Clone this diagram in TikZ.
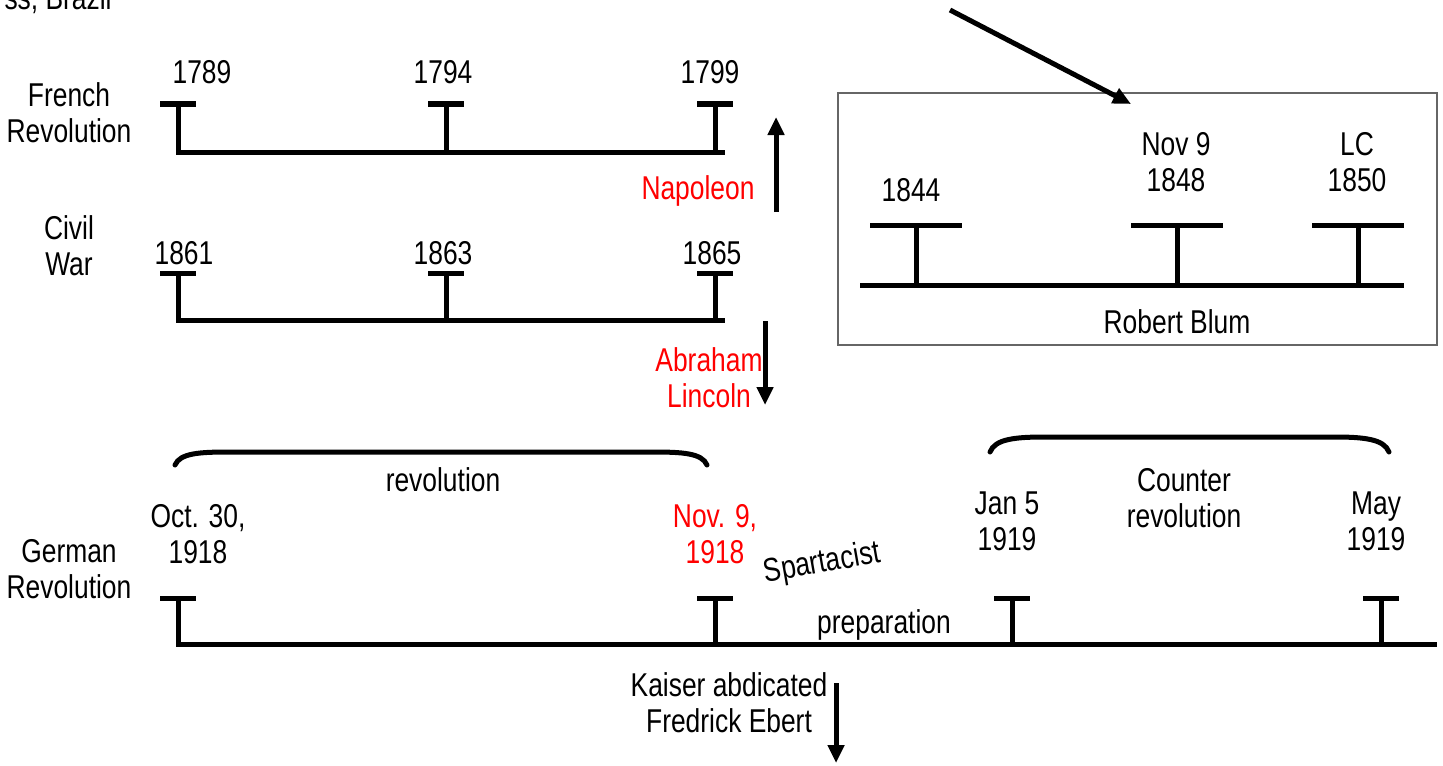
\documentclass[tikz,border=0pt]{standalone}
\usepackage{fontspec}
\setmainfont{Liberation Sans}[FakeStretch=0.8]
\usetikzlibrary{arrows.meta}
\tikzset{
  tline/.style={line width=2.5pt},
  brace/.style={line width=2.5pt, line cap=round},
  evt/.style={align=center, inner sep=0pt, font=\fontsize{16.5}{18}\selectfont},
  redevt/.style={evt, text=red},
  bigarrow/.style={line width=2.5pt, -{Triangle[width=8pt,length=9pt]}},
}
\begin{document}
\begin{tikzpicture}[x=0.5pt,y=-0.5pt]
  \useasboundingbox (0,0) rectangle (1443,765);
  \node[evt, anchor=base east] (brazil) at (112,10) {ss, Brazil};

  % French Revolution
  \node[evt] (fr) at (69,113) {French\\Revolution};
  \draw[tline] (178,104) -- (178,152) -- (725,152);
  \foreach \x in {178,446,715}
    \draw[tline] (\x-18,104) -- (\x+18,104) (\x,104) -- (\x,152);
  \node[evt] (fr1) at (202,72) {1789};
  \node[evt] (fr2) at (443,72) {1794};
  \node[evt] (fr3) at (710,72) {1799};

  % Napoleon
  \node[redevt] (napoleon) at (698,191) {Napoleon};
  \coordinate (napS) at (776,212);
  \coordinate (napE) at (776,117);
  \draw[bigarrow] (napS) -- (napE);

  % Civil War
  \node[evt] (cw) at (69,246) {Civil\\War};
  \draw[tline] (178,273) -- (178,320) -- (725,320);
  \foreach \x in {178,446,715}
    \draw[tline] (\x-18,273) -- (\x+18,273) (\x,273) -- (\x,320);
  \node[evt] (cw1) at (184,253) {1861};
  \node[evt] (cw2) at (443,253) {1863};
  \node[evt] (cw3) at (712,253) {1865};

  % Abraham Lincoln
  \node[redevt] (lincoln) at (709,378) {Abraham\\Lincoln};
  \coordinate (linS) at (765,321);
  \coordinate (linE) at (765,405);
  \draw[bigarrow] (linS) -- (linE);

  % Robert Blum box
  \draw[gray!80!black, line width=0.7pt] (838,93) rectangle (1437,345);
  \draw[tline] (860,285) -- (1404,285);
  \foreach \x in {916,1177,1358}
    \draw[tline] (\x-46,225) -- (\x+46,225) (\x,225) -- (\x,285);
  \node[evt] (rb1) at (911,190) {1844};
  \node[evt] (rb2) at (1176,162) {Nov 9\\1848};
  \node[evt] (rb3) at (1357,162) {LC\\1850};
  \node[evt] (blum) at (1177,322) {Robert Blum};
  \coordinate (topS) at (950,10);
  \coordinate (topE) at (1131,104);
  \draw[bigarrow] (topS) -- (topE);

  % German Revolution
  \node[evt] (gr) at (69,569) {German\\Revolution};
  \draw[tline] (178,598) -- (178,644) -- (1437,644);
  \foreach \x in {178,715,1012,1381}
    \draw[tline] (\x-18,598) -- (\x+18,598) (\x,598) -- (\x,644);
  \node[evt] (gr1) at (198,534) {Oct. 30,\\1918};
  \node[redevt] (gr2) at (715,534) {Nov. 9,\\1918};
  \node[evt] (gr3) at (1007,521) {Jan 5\\1919};
  \node[evt] (gr4) at (1376,521) {May\\1919};
  \node[evt, rotate=10] (spart) at (822,564) {Spartacist};
  \node[evt] (prep) at (884,625) {preparation};

  % braces
  \draw[brace] (175,465) .. controls (180,453) and (200,452) .. (230,452)
    -- (652,452) .. controls (682,452) and (702,453) .. (707,465);
  \node[evt] (revo) at (443,480) {revolution};
  \draw[brace] (990,452) .. controls (995,439) and (1015,437) .. (1045,437)
    -- (1334,437) .. controls (1364,437) and (1384,439) .. (1389,452);
  \node[evt] (counter) at (1184,498) {Counter\\revolution};

  % Kaiser
  \node[evt] (kaiser) at (729,703) {Kaiser abdicated\\Fredrick Ebert};
  \coordinate (kaiS) at (836,683);
  \coordinate (kaiE) at (836,763);
  \draw[bigarrow] (kaiS) -- (kaiE);
\end{tikzpicture}
\end{document}
